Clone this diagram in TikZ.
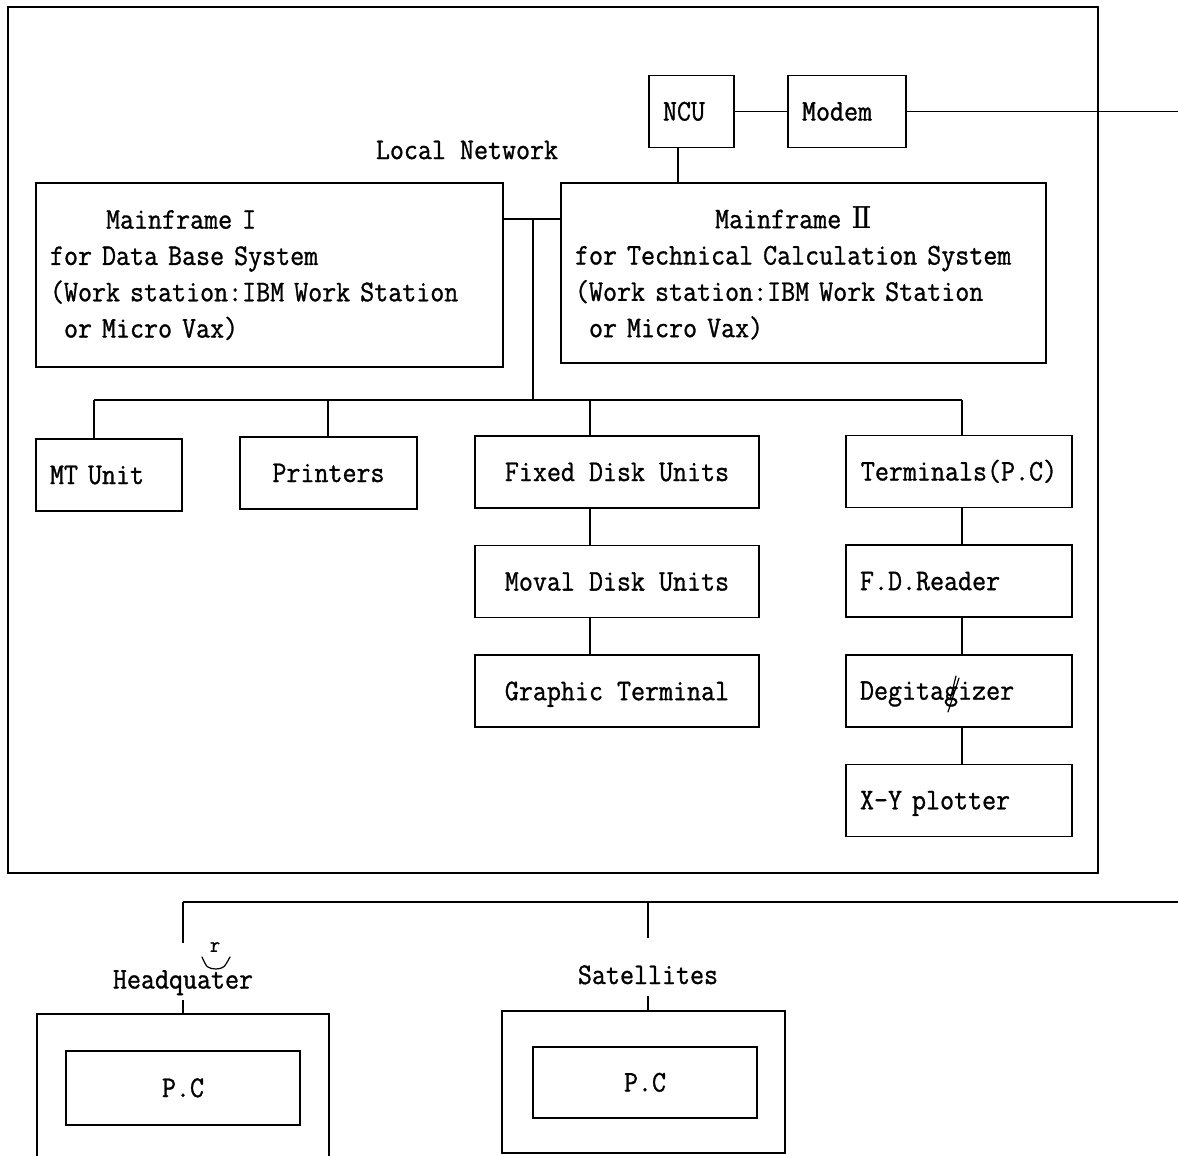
\documentclass[tikz,border=0pt]{standalone}
\usepackage{fontspec}
\usetikzlibrary{positioning}
\newfontfamily\lpfont{Latin Modern Mono}[FakeBold=1, FakeStretch=0.907]
\newfontfamily\romfont{DejaVu Serif}
\tikzset{
  unit/.style   = {draw, line width=1.6pt, minimum height=72pt, inner xsep=14pt,
                   inner ysep=0pt, text height=20pt, text depth=2pt},
  lunit/.style  = {unit, align=left},
  group/.style  = {draw, line width=1.6pt, inner sep=0pt},
  link/.style   = {line width=1.6pt},
  tag/.style    = {inner xsep=0pt, inner ysep=7.5pt, text height=38pt, text depth=4pt},
  scrawl/.style = {line width=1.2pt, line cap=round},
}

\begin{document}
\begin{tikzpicture}[x=1pt, y=-1pt, every node/.style={font=\lpfont\fontsize{30}{36.3}\selectfont}]
  \useasboundingbox (0,0) rectangle (1178,1156);
  \clip (0,0) rectangle (1178,1156);

  % local network site
  \draw[link] (8,7) rectangle (1098,873);
  \node[lunit, text width=57pt] (ncu) at (691.5,111.5) {NCU};
  \node[lunit, text width=90pt] (modem) at (847,111.5) {Modem};
  \node (lanlab) at (467,150) {Local Network};
  \node[group, align=left, text width=439pt, minimum height=184pt, inner xsep=14pt] (mf1) at (269.5,275)
    {\phantom{0000}Mainframe I\\for Data Base System\\(Work station:IBM Work Station\\\phantom{0}or Micro Vax)};
  \node[group, align=left, text width=457pt, minimum height=180pt, inner xsep=14pt] (mf2) at (803.5,273)
    {\phantom{0000000000}Mainframe {\romfont Ⅱ}\\for Technical Calculation System\\(Work station:IBM Work Station\\\phantom{0}or Micro Vax)};

  \node[lunit, text width=118pt] (mt) at (109,475) {MT Unit};
  \node[unit, minimum width=177pt] (prn) at (328.5,473) {Printers};
  \node[unit, minimum width=284pt] (fdu) at (617,472) {Fixed Disk Units};
  \node[unit, minimum width=284pt, below=36pt of fdu] (mdu) {Moval Disk Units};
  \node[unit, minimum width=284pt, below=36pt of mdu] (gt) {Graphic Terminal};
  \node[unit, minimum width=226pt] (term) at (959,471.5) {Terminals(P.C)};
  \node[lunit, text width=198pt, below=36pt of term] (fdr) {F.D.Reader};
  \node[lunit, text width=198pt, below=36pt of fdr] (dgt) {Degitagizer};
  \node[lunit, text width=198pt, below=36pt of dgt] (xy) {X-Y plotter};

  % remote sites
  \node[group, minimum width=292pt, minimum height=220pt] (hqbox) at (183,1124) {};
  \node[unit, minimum width=234pt, minimum height=74pt] (hqpc) at (183,1088) {P.C};
  \node[group, minimum width=283pt, minimum height=142pt] (satbox) at (643.5,1082) {};
  \node[unit, minimum width=224pt, minimum height=71pt] (satpc) at (645,1082.5) {P.C};
  \node[tag] (hqlab) at (183,971.5) {Headquater};
  \node[tag] (satlab) at (648,967) {Satellites};

  % connectors
  \coordinate (lan) at (533,219);
  \coordinate (bus) at (533,400);
  \coordinate (mttap) at (94,400);
  \coordinate (prntap) at (328,400);
  \coordinate (disktap) at (590,400);
  \coordinate (termtap) at (962,400);
  \coordinate (ncutap) at (678,147);
  \coordinate (pstn) at (1178,111.5);
  \coordinate (wan) at (183,902);
  \coordinate (wanend) at (1178,902);
  \coordinate (sattap) at (648,902);

  \draw[link] (ncu) -- (modem);
  \draw[link] (modem) -- (pstn);
  \draw[link] (ncutap |- ncu.south) -- (ncutap |- mf2.north);
  \draw[link] (mf1.east |- lan) -- (mf2.west |- lan);
  \draw[link] (lan) -- (bus);
  \draw[link] (mttap) -- (termtap);
  \foreach \t/\n in {mttap/mt, prntap/prn, disktap/fdu, termtap/term}
    \draw[link] (\t) -- (\t |- \n.north);
  \foreach \a/\b in {fdu/mdu, mdu/gt}
    \draw[link] (disktap |- \a.south) -- (disktap |- \b.north);
  \foreach \a/\b in {term/fdr, fdr/dgt, dgt/xy}
    \draw[link] (termtap |- \a.south) -- (termtap |- \b.north);

  \draw[link] (wan) -- (wanend);
  \draw[link] (wan) -- (hqlab.north);
  \draw[link] (hqlab.south) -- (hqbox.north);
  \draw[link] (sattap) -- (satlab.north);
  \draw[link] (satlab.south) -- (satlab.south |- satbox.north);

  % hand corrections
  \node[font=\lpfont\fontsize{22}{22}\selectfont] (fix) at (215,947) {r};
  \draw[scrawl] (202,957) .. controls (207,968) .. (216,969) .. controls (224,968) .. (230,957);
  \draw[scrawl] (956,676) -- (950,700);
  \draw[scrawl] (959,678) -- (948,712);
\end{tikzpicture}
\end{document}
